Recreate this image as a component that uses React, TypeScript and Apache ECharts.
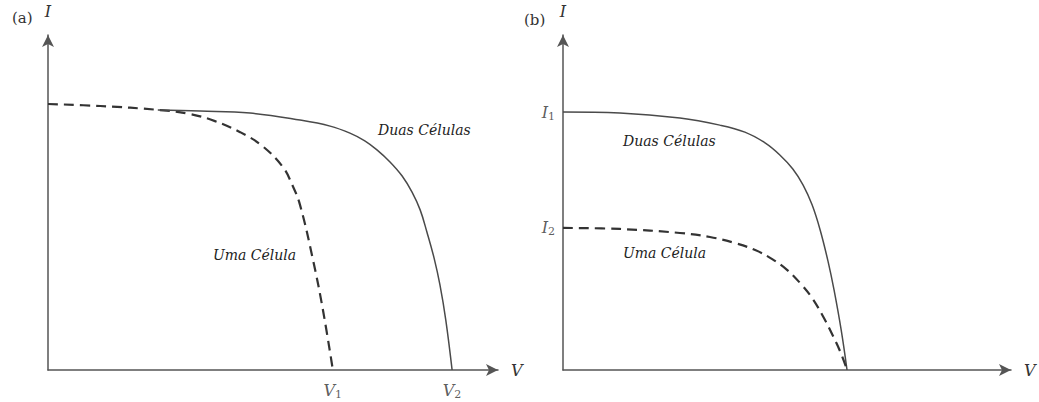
import React, { useEffect, useRef } from "react";
import * as echarts from "echarts";

// Panel (a): series connection — voltage adds, current stays the same
const seriesOneCellV = [0, 1.16, 2.49, 3.16, 3.71, 4.27, 4.76, 5.22, 5.42, 5.6, 5.89, 6.11, 6.33];
const seriesOneCellI = [7.94, 7.88, 7.76, 7.64, 7.43, 7.1, 6.69, 6.06, 5.55, 4.93, 3.28, 1.79, 0];
const seriesTwoCellsV = [2.44, 3.38, 4.49, 5.6, 6.27, 6.71, 7.04, 7.31, 7.6, 7.87, 8.09, 8.27, 8.42, 8.58, 8.71, 8.84, 8.98];
const seriesTwoCellsI = [7.76, 7.73, 7.67, 7.46, 7.28, 7.07, 6.84, 6.57, 6.21, 5.79, 5.31, 4.78, 4.12, 3.34, 2.54, 1.49, 0];

// Panel (b): parallel connection — current adds, voltage stays the same
const parallelTwoCellsV = [0, 1.27, 2.61, 3.5, 4.06, 4.51, 4.84, 5.13, 5.36, 5.56, 5.74, 5.92, 6.05, 6.21, 6.34];
const parallelTwoCellsI = [7.7, 7.67, 7.52, 7.31, 7.1, 6.78, 6.42, 6.0, 5.52, 4.93, 4.18, 3.22, 2.39, 1.19, 0];
const parallelOneCellV = [0, 1.27, 2.61, 3.28, 3.84, 4.29, 4.67, 5.0, 5.29, 5.56, 5.8, 6.03, 6.21, 6.34];
const parallelOneCellI = [4.24, 4.21, 4.09, 3.97, 3.79, 3.58, 3.31, 2.99, 2.6, 2.15, 1.61, 1.01, 0.48, 0];

// Marked values on the axes
const voltageMarks = [
  { name: "V", sub: "1", v: 6.33 },
  { name: "V", sub: "2", v: 8.98 },
];
const currentMarks = [
  { name: "I", sub: "1", i: 7.7 },
  { name: "I", sub: "2", i: 4.24 },
];

const zip = (xs: number[], ys: number[]) => xs.map((x, k) => [x, ys[k]]);

const AXIS_COLOR = "#555";
const serif = "DejaVu Serif";

const subRich = {
  m: { fontFamily: serif, fontStyle: "italic", fontSize: 16, color: "#333" },
  s: { fontFamily: serif, fontSize: 11, color: "#333", padding: [8, 0, 0, 0] },
};

function axisPair(gridIndex: number) {
  const common = {
    gridIndex,
    type: "value" as const,
    min: 0,
    max: 10,
    splitLine: { show: false },
    axisTick: { show: false },
    axisLabel: { show: false },
    axisLine: {
      show: true,
      onZero: false,
      symbol: ["none", "arrow"],
      symbolSize: [9, 12],
      lineStyle: { color: AXIS_COLOR, width: 1.5 },
    },
    nameTextStyle: { fontFamily: serif, fontStyle: "italic", fontSize: 16, color: "#333" },
  };
  return {
    x: { ...common, name: "V", nameLocation: "end" as const, nameGap: 13 },
    y: { ...common, name: "I", nameLocation: "end" as const, nameGap: 16 },
  };
}

export default function App() {
  const ref = useRef<HTMLDivElement>(null);

  useEffect(() => {
    if (!ref.current) return;
    const chart = echarts.init(ref.current, null, { renderer: "svg" });
    const a = axisPair(0);
    const b = axisPair(1);

    const solid = { color: "#4a4a4a", width: 1.5 };
    const dashed = { color: "#333", width: 2.2, type: [10, 6] as number[] };

    const line = (xi: number, data: number[][], style: any) => ({
      type: "line",
      xAxisIndex: xi,
      yAxisIndex: xi,
      data,
      smooth: 0.4,
      showSymbol: false,
      lineStyle: style,
      silent: true,
    });

    const panelTitle = { fontFamily: serif, fontSize: 15, fontWeight: "normal", color: "#333" };
    const note = `italic 14px "${serif}"`;

    chart.setOption({
      animation: false,
      backgroundColor: "#fff",
      title: [
        { text: "(a)", left: 7, top: 5, textStyle: panelTitle },
        { text: "(b)", left: 519, top: 7, textStyle: panelTitle },
      ],
      grid: [
        { left: 48, top: 35, width: 450, height: 335 },
        { left: 563, top: 35, width: 448, height: 335 },
      ],
      xAxis: [a.x, b.x],
      yAxis: [a.y, b.y],
      series: [
        line(0, zip(seriesOneCellV, seriesOneCellI), dashed),
        line(0, zip(seriesTwoCellsV, seriesTwoCellsI), solid),
        line(1, zip(parallelTwoCellsV, parallelTwoCellsI), solid),
        line(1, zip(parallelOneCellV, parallelOneCellI), dashed),
        {
          type: "scatter",
          xAxisIndex: 0,
          yAxisIndex: 0,
          symbolSize: 0,
          silent: true,
          data: voltageMarks.map((m) => ({ value: [m.v, 0], name: m.name, sub: m.sub })),
          label: {
            show: true,
            position: "bottom",
            distance: 11,
            formatter: (p: any) => `{m|${p.data.name}}{s|${p.data.sub}}`,
            rich: subRich,
          },
        },
        {
          type: "scatter",
          xAxisIndex: 1,
          yAxisIndex: 1,
          symbolSize: 0,
          silent: true,
          data: currentMarks.map((m) => ({ value: [0, m.i], name: m.name, sub: m.sub })),
          label: {
            show: true,
            position: "left",
            distance: 8,
            formatter: (p: any) => `{m|${p.data.name}}{s|${p.data.sub}}`,
            rich: subRich,
          },
        },
      ],
      graphic: [
        { type: "text", x: 378, y: 123, style: { text: "Duas Células", font: note, fill: "#222" } },
        { type: "text", x: 213, y: 248, style: { text: "Uma Célula", font: note, fill: "#222" } },
        { type: "text", x: 623, y: 134, style: { text: "Duas Células", font: note, fill: "#222" } },
        { type: "text", x: 623, y: 246, style: { text: "Uma Célula", font: note, fill: "#222" } },
      ],
    });
    return () => chart.dispose();
  }, []);

  return (
    <div
      ref={ref}
      style={{ position: "fixed", left: 0, top: 0, width: 1039, height: 402, background: "#fff" }}
    />
  );
}
